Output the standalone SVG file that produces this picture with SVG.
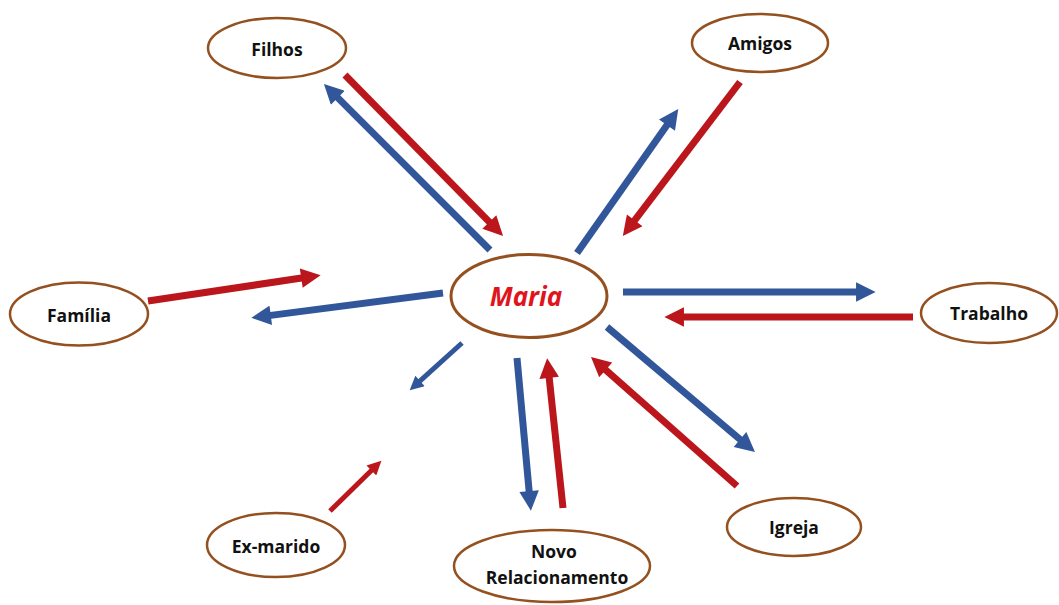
<svg xmlns="http://www.w3.org/2000/svg" width="1059" height="605" viewBox="0 0 1059 605">
<style>
.node ellipse{fill:#fff;stroke:#94501f;stroke-width:2.5}
.node text{font-family:"Open Sans","Liberation Sans",sans-serif;font-weight:700;font-size:17.5px;fill:#111;text-anchor:middle;dominant-baseline:central}
.red{stroke:#bb161c;stroke-width:7;fill:none}
.blue{stroke:#31569a;stroke-width:7;fill:none}
.thin{stroke-width:5}
</style>
<defs>
<marker id="hr" viewBox="0 0 10 10" refX="1" refY="5" markerWidth="3" markerHeight="2.8" orient="auto"><path d="M0,0 L10,5 L0,10 z" fill="#bb161c"/></marker>
<marker id="hb" viewBox="0 0 10 10" refX="1" refY="5" markerWidth="3" markerHeight="2.8" orient="auto"><path d="M0,0 L10,5 L0,10 z" fill="#31569a"/></marker>
</defs>
<rect width="1059" height="605" fill="#fff"/>
<g id="connectors">
<line class="blue" x1="490" y1="250" x2="336.4" y2="96.4" marker-end="url(#hb)"/>
<line class="red" x1="345" y1="75" x2="490.7" y2="223.4" marker-end="url(#hr)"/>
<line class="blue" x1="577" y1="253" x2="668.1" y2="123.5" marker-end="url(#hb)"/>
<line class="red" x1="740" y1="82" x2="633.5" y2="221.9" marker-end="url(#hr)"/>
<line class="red" x1="148" y1="301" x2="303.2" y2="277.8" marker-end="url(#hr)"/>
<line class="blue" x1="443" y1="293" x2="268.8" y2="315.6" marker-end="url(#hb)"/>
<line class="blue" x1="623" y1="292" x2="858" y2="292" marker-end="url(#hb)"/>
<line class="red" x1="913" y1="317" x2="682" y2="317" marker-end="url(#hr)"/>
<line class="blue" x1="607" y1="327" x2="741.5" y2="440.7" marker-end="url(#hb)"/>
<line class="red" x1="737" y1="486" x2="604.2" y2="368.6" marker-end="url(#hr)"/>
<line class="blue" x1="517" y1="358" x2="529.3" y2="493.1" marker-end="url(#hb)"/>
<line class="red" x1="563" y1="508" x2="549" y2="375.9" marker-end="url(#hr)"/>
<line class="blue thin" x1="462" y1="343" x2="419" y2="381.9" marker-end="url(#hb)"/>
<line class="red thin" x1="330" y1="511" x2="372.4" y2="469.5" marker-end="url(#hr)"/>
</g>
<g id="maria" class="node"><ellipse cx="529" cy="296" rx="78" ry="41.5" style="stroke-width:3"/><text x="526" y="296" style="font-size:26px;font-style:italic;fill:#e0141c">Maria</text></g>
<g id="filhos" class="node"><ellipse cx="277" cy="48" rx="69" ry="30"/><text x="277" y="49">Filhos</text></g>
<g id="amigos" class="node"><ellipse cx="760" cy="43" rx="68" ry="29"/><text x="760" y="43">Amigos</text></g>
<g id="familia" class="node"><ellipse cx="79" cy="314" rx="69" ry="31.5"/><text x="79" y="315">Família</text></g>
<g id="trabalho" class="node"><ellipse cx="989" cy="313" rx="68" ry="30"/><text x="989" y="313">Trabalho</text></g>
<g id="igreja" class="node"><ellipse cx="794" cy="527" rx="67" ry="29"/><text x="794" y="527">Igreja</text></g>
<g id="novo" class="node"><ellipse cx="552" cy="566" rx="98" ry="36"/><text x="554" y="551">Novo</text><text x="557" y="577">Relacionamento</text></g>
<g id="exmarido" class="node"><ellipse cx="276" cy="545" rx="69" ry="32"/><text x="276" y="546">Ex-marido</text></g>
</svg>
